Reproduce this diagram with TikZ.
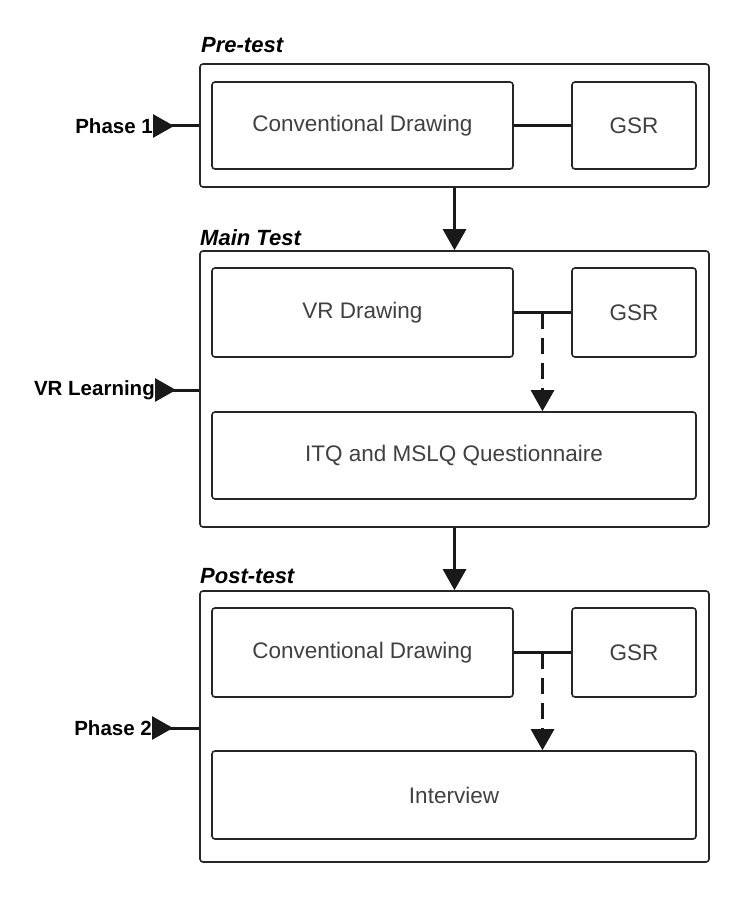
\documentclass[tikz,border=0pt]{standalone}
\usepackage{fontspec}
\setmainfont{Liberation Sans}
\usetikzlibrary{arrows.meta}

\begin{document}
\begin{tikzpicture}[x=1pt, y=-1pt,
	outerbox/.style={draw=black!85, line width=1.6pt, rounded corners=3pt, inner sep=0pt},
	innerbox/.style={draw=black!85, line width=1.6pt, rounded corners=3pt, inner sep=0pt, text=black!75, font=\fontsize{22.5}{26}\selectfont},
	heading/.style={font=\fontsize{22}{26}\selectfont\bfseries\itshape, inner sep=0pt, anchor=base west},
	phaselabel/.style={font=\fontsize{20.5}{24}\selectfont\bfseries, inner sep=0pt, anchor=east},
	link/.style={line width=2.8pt, draw=black!90},
	flow/.style={line width=2.8pt, draw=black!90, -{Triangle[length=21pt, width=23pt]}},
	dashflow/.style={line width=2.8pt, draw=black!90, dash pattern=on 16pt off 9pt, -{Triangle[length=21pt, width=23pt]}},
	entry/.style={line width=3pt, draw=black!90, {Triangle[reversed, length=21pt, width=23pt]}-}]
	%%%%% START %%%%%
	
	\useasboundingbox (0, 0) rectangle (754, 901);
	
	% outer frames
	\node[outerbox, minimum width=509pt, minimum height=123pt] (pre) at (454.5, 125.5) {};
	\node[outerbox, minimum width=509pt, minimum height=276pt] (main) at (454.5, 389) {};
	\node[outerbox, minimum width=509pt, minimum height=271pt] (post) at (454.5, 726.5) {};
	
	\node[heading] (preT) at (201, 53) {Pre-test};
	\node[heading] (mainT) at (200, 245) {Main Test};
	\node[heading] (postT) at (200, 583) {Post-test};
	
	% pre-test
	\node[innerbox, minimum width=301pt, minimum height=87pt] (cdA) at (362.5, 125.5) {Conventional Drawing};
	\node[innerbox, minimum width=124pt, minimum height=87pt] (gsrA) at (634, 125.5) {GSR};
	\draw[link] (cdA) -- (gsrA);
	
	% main test
	\node[innerbox, minimum width=301pt, minimum height=89pt] (vr) at (362.5, 312.5) {VR Drawing};
	\node[innerbox, minimum width=124pt, minimum height=89pt] (gsrB) at (634, 312.5) {GSR};
	\node[innerbox, minimum width=484pt, minimum height=87pt] (itq) at (454, 455.5) {ITQ and MSLQ Questionnaire};
	\draw[link] (vr) -- coordinate[pos=0.5] (jB) (gsrB);
	\draw[dashflow] (jB) -- (jB |- itq.north);
	
	% post-test
	\node[innerbox, minimum width=301pt, minimum height=89pt] (cdC) at (362.5, 652.5) {Conventional Drawing};
	\node[innerbox, minimum width=124pt, minimum height=89pt] (gsrC) at (634, 652.5) {GSR};
	\node[innerbox, minimum width=484pt, minimum height=88pt] (intv) at (454, 795) {Interview};
	\draw[link] (cdC) -- coordinate[pos=0.5] (jC) (gsrC);
	\draw[dashflow] (jC) -- (jC |- intv.north);
	
	% between phases
	\draw[flow] (pre.south) -- (main.north);
	\draw[flow] (main.south) -- (post.north);
	
	% side labels
	\node[phaselabel] (ph1) at (153, 126) {Phase 1};
	\node[phaselabel] (vrl) at (155, 390) {VR Learning};
	\node[phaselabel] (ph2) at (152, 728) {Phase 2};
	\draw[entry] (ph1.east) -- (ph1.east -| pre.west);
	\draw[entry] (vrl.east) -- (vrl.east -| main.west);
	\draw[entry] (ph2.east) -- (ph2.east -| post.west);
	
	%%%%% END %%%%%
\end{tikzpicture}
\end{document}
